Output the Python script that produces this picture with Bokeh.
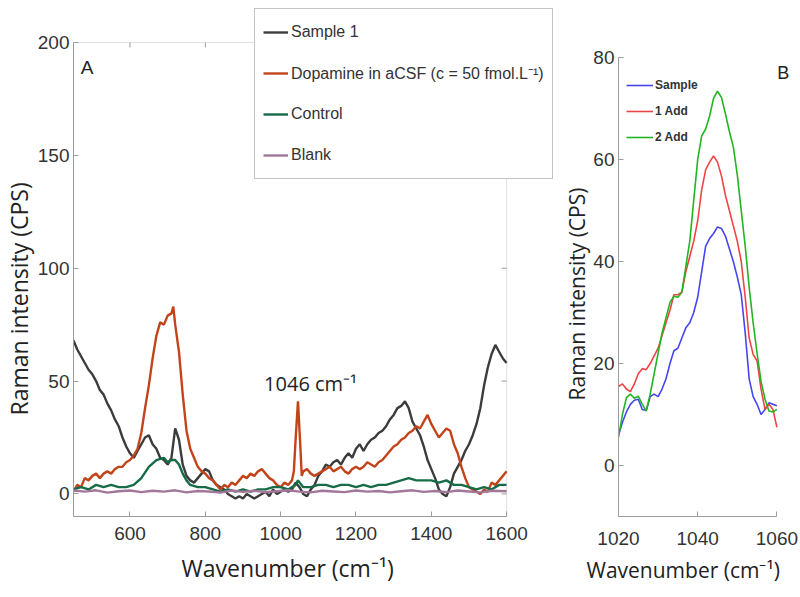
import math
from bokeh.plotting import figure
from bokeh.models import Range1d, FixedTicker, Legend, LegendItem, Label, BoxAnnotation, Title
from bokeh.layouts import row
from bokeh.embed import file_html
from bokeh.resources import INLINE

# ---------------- Panel A data ----------------
sample1_x = [450, 460, 470, 480, 490, 500, 510, 520, 530, 540, 550, 560, 570, 580, 590, 600,
             610, 620, 630, 640, 650, 660, 670, 680, 690, 700, 710, 720, 730, 740, 750, 760,
             770, 780, 790, 800, 810, 820, 830, 840, 850, 860, 870, 880, 890, 900, 910, 920,
             930, 940, 950, 960, 970, 980, 990, 1000, 1010, 1020, 1030, 1040, 1050, 1060,
             1070, 1080, 1090, 1100, 1110, 1120, 1130, 1140, 1150, 1160, 1170, 1180, 1190,
             1200, 1210, 1220, 1230, 1240, 1250, 1260, 1270, 1280, 1290, 1300, 1310, 1320,
             1330, 1340, 1350, 1360, 1370, 1380, 1390, 1400, 1410, 1420, 1430, 1440, 1450,
             1460, 1470, 1480, 1490, 1500, 1510, 1520, 1530, 1540, 1550, 1560, 1570, 1580,
             1590, 1600]
sample1_y = [68, 64, 61, 58, 55, 53, 50, 46, 44, 40, 37, 33, 30, 25, 21, 18,
             16, 19, 22, 25, 26, 22, 20, 16, 15, 13, 16, 29, 24, 13, 8, 6,
             5, 7, 9, 11, 10, 6, 4, 3, 2, 0, -1, -2, -1, -2, 0, -1,
             -2, -1, 0, 1, -1, 2, 0, 1, 2, 1, 2, 5, 3, 0,
             -1, 2, 4, 8, 10, 13, 12, 14, 15, 13, 16, 18, 16,
             20, 22, 19, 22, 24, 25, 27, 28, 30, 33, 35, 38, 39,
             41, 38, 32, 29, 26, 21, 15, 11, 7, 2, 0, -1, 3,
             9, 12, 15, 19, 22, 26, 31, 38, 48, 56, 62, 66, 63,
             60, 58]

dopamine_x = [450, 460, 470, 480, 490, 500, 510, 520, 530, 540, 550, 560, 570, 580, 590, 600,
              610, 620, 630, 640, 650, 660, 670, 680, 690, 700, 710, 715, 720, 730, 740, 750,
              760, 770, 780, 790, 800, 810, 820, 830, 840, 850, 860, 870, 880, 890, 900, 910,
              920, 930, 940, 950, 960, 970, 980, 990, 1000, 1010, 1020, 1030, 1035, 1040,
              1046, 1052, 1056, 1060, 1070, 1080, 1090, 1100, 1110, 1120, 1130, 1140, 1150,
              1160, 1170, 1180, 1190, 1200, 1210, 1220, 1230, 1240, 1250, 1260, 1270, 1280,
              1290, 1300, 1310, 1320, 1330, 1340, 1350, 1360, 1370, 1380, 1390, 1400, 1410,
              1420, 1430, 1440, 1450, 1460, 1470, 1480, 1490, 1500, 1510, 1520, 1530, 1540,
              1550, 1560, 1570, 1580, 1590, 1600]
dopamine_y = [1, 4, 3, 7, 6, 8, 9, 7, 9, 10, 9, 11, 12, 12, 14, 15,
              17, 20, 27, 38, 48, 60, 70, 76, 75, 79, 80, 83, 75, 63, 44, 28,
              20, 16, 12, 10, 9, 7, 6, 4, 2, 4, 3, 5, 4, 6, 8, 7,
              9, 8, 10, 11, 9, 7, 6, 4, 3, 5, 4, 6, 10, 25,
              41, 22, 8, 10, 11, 9, 8, 9, 10, 11, 12, 10, 11,
              12, 10, 9, 11, 12, 11, 12, 14, 13, 12, 14, 15, 17,
              19, 21, 22, 24, 25, 27, 28, 30, 29, 32, 35, 31, 28,
              25, 27, 29, 28, 22, 18, 12, 7, 3, 2, 1, 0, 2,
              1, 5, 4, 6, 8, 10]

control_x = [450, 470, 490, 510, 530, 550, 570, 590, 610, 630, 650, 670, 690, 700, 710, 720,
             730, 740, 750, 760, 780, 800, 820, 840, 860, 880, 900, 920, 940, 960, 980, 1000,
             1020, 1040, 1046, 1060, 1080, 1100, 1120, 1140, 1160, 1180, 1200, 1220, 1240,
             1260, 1280, 1300, 1320, 1340, 1360, 1380, 1400, 1420, 1440, 1460, 1480, 1500,
             1520, 1540, 1560, 1580, 1600]
control_y = [2, 3, 2, 4, 3, 4, 3, 3, 4, 7, 12, 15, 16, 14, 15, 15,
             13, 9, 6, 4, 3, 3, 2, 1, 2, 1, 2, 1, 2, 2, 3, 3,
             2, 4, 6, 3, 3, 4, 4, 3, 4, 4, 3, 4, 3,
             4, 4, 5, 6, 7, 6, 6, 6, 5, 6, 4, 4, 3,
             2, 3, 2, 4, 4]

blank_x = [450, 480, 510, 540, 570, 600, 630, 660, 690, 720, 750, 780, 810, 840, 870, 900,
           930, 960, 990, 1020, 1050, 1080, 1110, 1140, 1170, 1200, 1230, 1260, 1290, 1320,
           1350, 1380, 1410, 1440, 1470, 1500, 1530, 1560, 1600]
blank_y = [1.5, 1.0, 1.6, 0.6, 1.2, 1.5, 0.8, 1.4, 1.0, 1.6, 0.7, 1.3, 1.1, 0.6, 1.5, 0.9,
           1.4, 0.8, 1.2, 1.6, 1.0, 0.7, 1.4, 1.1, 0.8, 1.5, 1.0, 1.3, 0.7, 1.2,
           1.6, 0.9, 1.3, 0.8, 1.5, 1.1, 0.7, 1.4, 1.2]

a_xticks = [600, 800, 1000, 1200, 1400, 1600]
a_yticks = [0, 50, 100, 150, 200]
A_XLIM = (450, 1600)
A_YLIM = (-10, 200)

# ---------------- Panel B data ----------------
b_x = [1020, 1021, 1022, 1023, 1024, 1025, 1026, 1027, 1028, 1029, 1030, 1031, 1032, 1033,
       1034, 1035, 1036, 1037, 1038, 1039, 1040, 1041, 1042, 1043, 1044, 1045, 1046, 1047,
       1048, 1049, 1050, 1051, 1052, 1053, 1054, 1055, 1056, 1057, 1058, 1059, 1060]
b_sample = [6, 8.5, 10.5, 12, 12.8, 13, 11, 10.8, 13.5, 14, 13.5, 15, 17, 20,
            22.5, 23, 25, 27, 28, 30, 33, 38, 43, 44.5, 45.5, 46.8, 46.5, 45,
            42.5, 40, 37, 33.5, 26, 17, 13.5, 12, 10, 11, 12.3, 12, 11.7]
b_add1 = [15.5, 16, 15, 14.5, 16, 18, 19, 18.8, 20, 21.5, 23, 25.5, 28, 30.5,
          33.5, 33.5, 34, 38, 41, 44, 48, 54, 58, 59.5, 60.7, 59.5, 56.8, 53,
          50, 47, 44, 40, 33, 25, 21.8, 20.5, 15, 11, 12, 11, 7.5]
b_add2 = [5.5, 10, 13.3, 14, 13.2, 13.6, 12, 10.7, 14, 18, 22, 26, 29, 32,
          33.2, 33, 34, 39, 44, 52, 60, 64.6, 66, 68.5, 72, 73.4, 72.2, 69,
          65.5, 62.5, 57, 50, 43, 35, 28, 22, 16.5, 13, 10.7, 10.5, 11]

b_xticks = [1020, 1040, 1060]
b_yticks = [0, 20, 40, 60, 80]
B_XLIM = (1020, 1060)
B_YLIM = (-10, 80)

TICK_FONT = "Liberation Sans"
LABEL_FONT = "Open Sans"
AXC = "#9c9c9c"
TXT = "#333333"
LBL = "#222222"


def style_axis(ax, ticks, bounds, size="19px"):
    ax.ticker = FixedTicker(ticks=ticks)
    ax.bounds = bounds
    ax.axis_line_color = AXC
    ax.major_tick_line_color = AXC
    ax.major_tick_in = 5
    ax.major_tick_out = 0
    ax.minor_tick_line_color = None
    ax.major_label_text_font = TICK_FONT
    ax.major_label_text_font_size = size
    ax.major_label_text_color = TXT


def axis_title(text, size, offset, standoff):
    return Title(text=text, align="left", offset=offset, standoff=standoff,
                 text_font=LABEL_FONT, text_font_size=size, text_font_style="normal",
                 text_color=LBL)


# ---------------- Panel A ----------------
# the view extends past the data box so the legend (which overlaps the box edge) stays visible
pa = figure(width=560, height=597, x_range=Range1d(A_XLIM[0], 1735), y_range=Range1d(A_YLIM[0], 218.6),
            output_backend="svg", toolbar_location=None, title=None,
            min_border_left=72, min_border_right=3, min_border_top=0, min_border_bottom=81)
pa.grid.visible = False
pa.outline_line_color = None
pa.background_fill_color = "white"
pa.border_fill_color = "white"

style_axis(pa.xaxis[0], a_xticks, A_XLIM)
style_axis(pa.yaxis[0], a_yticks, A_YLIM)
pa.xaxis[0].major_label_standoff = 10
pa.yaxis[0].major_label_standoff = 4
pa.add_layout(axis_title("Wavenumber (cm⁻¹)", "23px", 108, 14), "below")
pa.add_layout(axis_title("Raman intensity (CPS)", "23px", 101, 0), "left")

# box around the data area, with inward ticks on the top and right edges
pa.add_layout(BoxAnnotation(left=A_XLIM[0], right=A_XLIM[1], bottom=A_YLIM[0], top=A_YLIM[1],
                            fill_alpha=0, line_color=AXC, line_width=1))
pa.ray(x=a_xticks, y=[A_YLIM[1]] * len(a_xticks), length=5, length_units="screen",
       angle=-math.pi / 2, line_color=AXC, line_width=1)
pa.ray(x=[A_XLIM[1]] * len(a_yticks), y=a_yticks, length=5, length_units="screen",
       angle=math.pi, line_color=AXC, line_width=1)

r1 = pa.line(sample1_x, sample1_y, line_color="#3c3c3c", line_width=2.4)
r2 = pa.line(dopamine_x, dopamine_y, line_color="#c2441a", line_width=2.4)
r3 = pa.line(control_x, control_y, line_color="#176b47", line_width=2.4)
r4 = pa.line(blank_x, blank_y, line_color="#a3779a", line_width=2.4)

leg_a = Legend(items=[LegendItem(label="Sample 1", renderers=[r1]),
                      LegendItem(label="Dopamine in aCSF (c = 50 fmol.L⁻¹)", renderers=[r2]),
                      LegendItem(label="Control", renderers=[r3]),
                      LegendItem(label="Blank", renderers=[r4])],
               location=(181, 337), orientation="vertical",
               label_text_font=TICK_FONT, label_text_font_size="16px", label_text_color=TXT,
               glyph_width=25, glyph_height=30, label_height=30, spacing=11, padding=8,
               label_standoff=3, margin=0,
               border_line_color="#8a8a8a", border_line_width=1,
               background_fill_color="white", background_fill_alpha=1.0)
pa.add_layout(leg_a)

pa.add_layout(Label(x=469, y=189, text="A", text_font="Liberation Sans", text_font_size="19px",
                    text_color=LBL, text_baseline="middle"))
pa.add_layout(Label(x=956, y=49, text="1046 cm⁻¹", text_font=LABEL_FONT, text_font_size="20px",
                    text_color=LBL, text_baseline="middle"))

# ---------------- Panel B ----------------
pb = figure(width=240, height=597, x_range=Range1d(B_XLIM[0], 1064.7), y_range=Range1d(B_YLIM[0], 91.2),
            output_backend="svg", toolbar_location=None, title=None,
            min_border_left=55, min_border_right=5, min_border_top=0, min_border_bottom=81)
pb.grid.visible = False
pb.outline_line_color = None
pb.background_fill_color = "white"
pb.border_fill_color = "white"
style_axis(pb.xaxis[0], b_xticks, B_XLIM)
style_axis(pb.yaxis[0], b_yticks, B_YLIM)
pb.xaxis[0].major_label_standoff = 15
pb.yaxis[0].major_label_standoff = 4
pb.add_layout(axis_title("Wavenumber (cm⁻¹)", "21px", -32, 12), "below")
pb.add_layout(axis_title("Raman intensity (CPS)", "21px", 116, 0), "left")

s1 = pb.line(b_x, b_sample, line_color="#4646f0", line_width=1.6)
s2 = pb.line(b_x, b_add1, line_color="#f04444", line_width=1.6)
s3 = pb.line(b_x, b_add2, line_color="#22b522", line_width=1.6)

leg_b = Legend(items=[LegendItem(label="Sample", renderers=[s1]),
                      LegendItem(label="1 Add", renderers=[s2]),
                      LegendItem(label="2 Add", renderers=[s3])],
               location=(8, 366), orientation="vertical",
               label_text_font=TICK_FONT, label_text_font_size="12px", label_text_font_style="bold",
               label_text_color=TXT,
               glyph_width=27, glyph_height=26, label_height=26, spacing=0, padding=0,
               label_standoff=2, margin=0,
               border_line_color=None, background_fill_alpha=0.0)
pb.add_layout(leg_b)

pb.add_layout(Label(x=1060.1, y=77, text="B", text_font="Liberation Sans", text_font_size="18px",
                    text_color=LBL, text_baseline="middle"))

layout = row(pa, pb)
open("out.html", "w").write(file_html(layout, INLINE))
